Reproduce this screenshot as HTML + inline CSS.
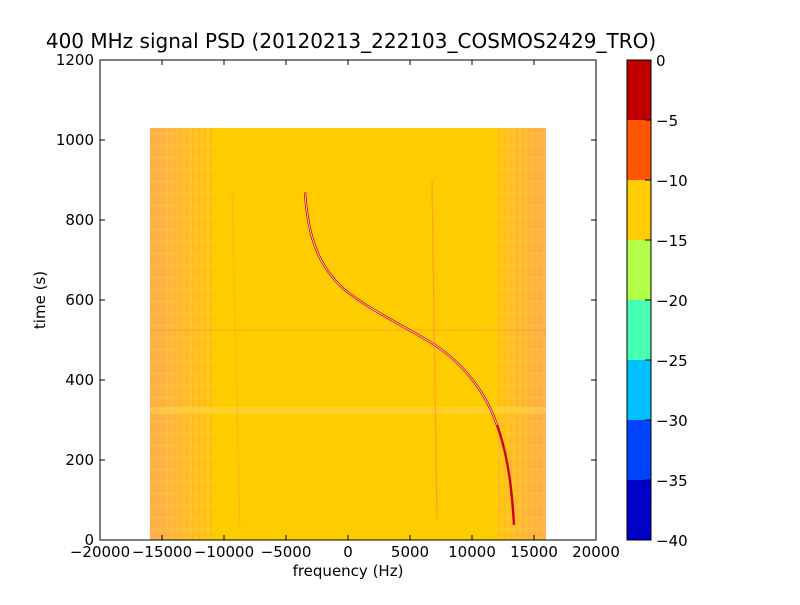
<!DOCTYPE html>
<html><head><style>
body{margin:0;background:#fff;width:800px;height:600px;overflow:hidden}
svg text{font-family:"DejaVu Sans","Liberation Sans",sans-serif;font-size:15px;fill:#000}
</style></head><body>
<svg width="800" height="600" xmlns="http://www.w3.org/2000/svg">
<defs>
<linearGradient id="gl" x1="0" x2="1" y1="0" y2="0">
<stop offset="0" stop-color="#ffb04a"/><stop offset="0.5" stop-color="#ffbe30"/><stop offset="1" stop-color="#ffcc00"/>
</linearGradient>
<linearGradient id="gr" x1="0" x2="1" y1="0" y2="0">
<stop offset="0" stop-color="#ffcc00"/><stop offset="0.5" stop-color="#ffbe30"/><stop offset="1" stop-color="#ffb04a"/>
</linearGradient>
<pattern id="st" width="6" height="12" patternUnits="userSpaceOnUse">
<rect x="0" y="0" width="2" height="12" fill="#ff9f50" opacity="0.35"/>
<rect x="0" y="0" width="6" height="3" fill="#ffd040" opacity="0.25"/>
</pattern>
</defs>
<rect x="150" y="128" width="396" height="412" fill="#ffcc00"/>
<rect x="150" y="128" width="65" height="412" fill="url(#gl)"/>
<rect x="150" y="128" width="65" height="412" fill="url(#st)"/>
<rect x="495" y="128" width="51" height="412" fill="url(#gr)"/>
<rect x="495" y="128" width="51" height="412" fill="url(#st)"/>
<line x1="150" y1="330" x2="546" y2="330" stroke="#ff9040" stroke-width="1" opacity="0.6"/>
<rect x="150" y="407" width="396" height="7" fill="#ffd84a" opacity="0.5"/>
<line x1="432" y1="180" x2="437" y2="520" stroke="#ff8a40" stroke-width="1.2" opacity="0.7"/>
<line x1="232" y1="190" x2="240" y2="530" stroke="#ff9a40" stroke-width="1" opacity="0.5"/>
<path fill="none" stroke="#d00010" stroke-width="2.4" d="M305,192 C308,240 320,268 345,290 C370,310 400,324 430,342 C460,360 485,390 497,425 C508,455 512,490 514,525"/>
<path fill="none" stroke="#ffe8e8" stroke-width="0.8" d="M305,192 C308,240 320,268 345,290 C370,310 400,324 430,342 C460,360 485,390 497,425"/>
<rect x="100" y="60" width="496" height="480" fill="none" stroke="#000" stroke-width="1"/>
<g stroke="#000" stroke-width="1">
<line x1="100" y1="540" x2="100" y2="535"/><line x1="162" y1="540" x2="162" y2="535"/><line x1="224" y1="540" x2="224" y2="535"/><line x1="286" y1="540" x2="286" y2="535"/><line x1="348" y1="540" x2="348" y2="535"/><line x1="410" y1="540" x2="410" y2="535"/><line x1="472" y1="540" x2="472" y2="535"/><line x1="534" y1="540" x2="534" y2="535"/>
<line x1="100" y1="60" x2="100" y2="65"/><line x1="162" y1="60" x2="162" y2="65"/><line x1="224" y1="60" x2="224" y2="65"/><line x1="286" y1="60" x2="286" y2="65"/><line x1="348" y1="60" x2="348" y2="65"/><line x1="410" y1="60" x2="410" y2="65"/><line x1="472" y1="60" x2="472" y2="65"/><line x1="534" y1="60" x2="534" y2="65"/>
<line x1="100" y1="460" x2="105" y2="460"/><line x1="100" y1="380" x2="105" y2="380"/><line x1="100" y1="300" x2="105" y2="300"/><line x1="100" y1="220" x2="105" y2="220"/><line x1="100" y1="140" x2="105" y2="140"/>
<line x1="596" y1="460" x2="591" y2="460"/><line x1="596" y1="380" x2="591" y2="380"/><line x1="596" y1="300" x2="591" y2="300"/><line x1="596" y1="220" x2="591" y2="220"/><line x1="596" y1="140" x2="591" y2="140"/>
</g>
<g text-anchor="middle">
<text x="100" y="557">−20000</text><text x="162" y="557">−15000</text><text x="224" y="557">−10000</text><text x="286" y="557">−5000</text><text x="348" y="557">0</text><text x="410" y="557">5000</text><text x="472" y="557">10000</text><text x="534" y="557">15000</text><text x="596" y="557">20000</text>
<text x="348" y="576">frequency (Hz)</text>
<text x="351" y="48" style="font-size:20px">400 MHz signal PSD (20120213_222103_COSMOS2429_TRO)</text>
</g>
<g text-anchor="end">
<text x="94" y="545">0</text><text x="94" y="465">200</text><text x="94" y="385">400</text><text x="94" y="305">600</text><text x="94" y="225">800</text><text x="94" y="145">1000</text><text x="94" y="65">1200</text>
</g>
<text transform="translate(45,300) rotate(-90)" text-anchor="middle">time (s)</text>
<rect x="627" y="60" width="24" height="60" fill="#c00000"/>
<rect x="627" y="120" width="24" height="60" fill="#ff5500"/>
<rect x="627" y="180" width="24" height="60" fill="#ffcc00"/>
<rect x="627" y="240" width="24" height="60" fill="#b2ff47"/>
<rect x="627" y="300" width="24" height="60" fill="#47ffb2"/>
<rect x="627" y="360" width="24" height="60" fill="#00c0ff"/>
<rect x="627" y="420" width="24" height="60" fill="#0044ff"/>
<rect x="627" y="480" width="24" height="60" fill="#0000c8"/>
<rect x="627" y="60" width="24" height="480" fill="none" stroke="#000"/>
<g stroke="#000"><line x1="645" y1="120" x2="651" y2="120"/><line x1="645" y1="180" x2="651" y2="180"/><line x1="645" y1="240" x2="651" y2="240"/><line x1="645" y1="300" x2="651" y2="300"/><line x1="645" y1="360" x2="651" y2="360"/><line x1="645" y1="420" x2="651" y2="420"/><line x1="645" y1="480" x2="651" y2="480"/></g>
<g>
<text x="656" y="66">0</text><text x="656" y="126">−5</text><text x="656" y="186">−10</text><text x="656" y="246">−15</text><text x="656" y="306">−20</text><text x="656" y="366">−25</text><text x="656" y="426">−30</text><text x="656" y="486">−35</text><text x="656" y="546">−40</text>
</g>
</svg>
</body></html>
